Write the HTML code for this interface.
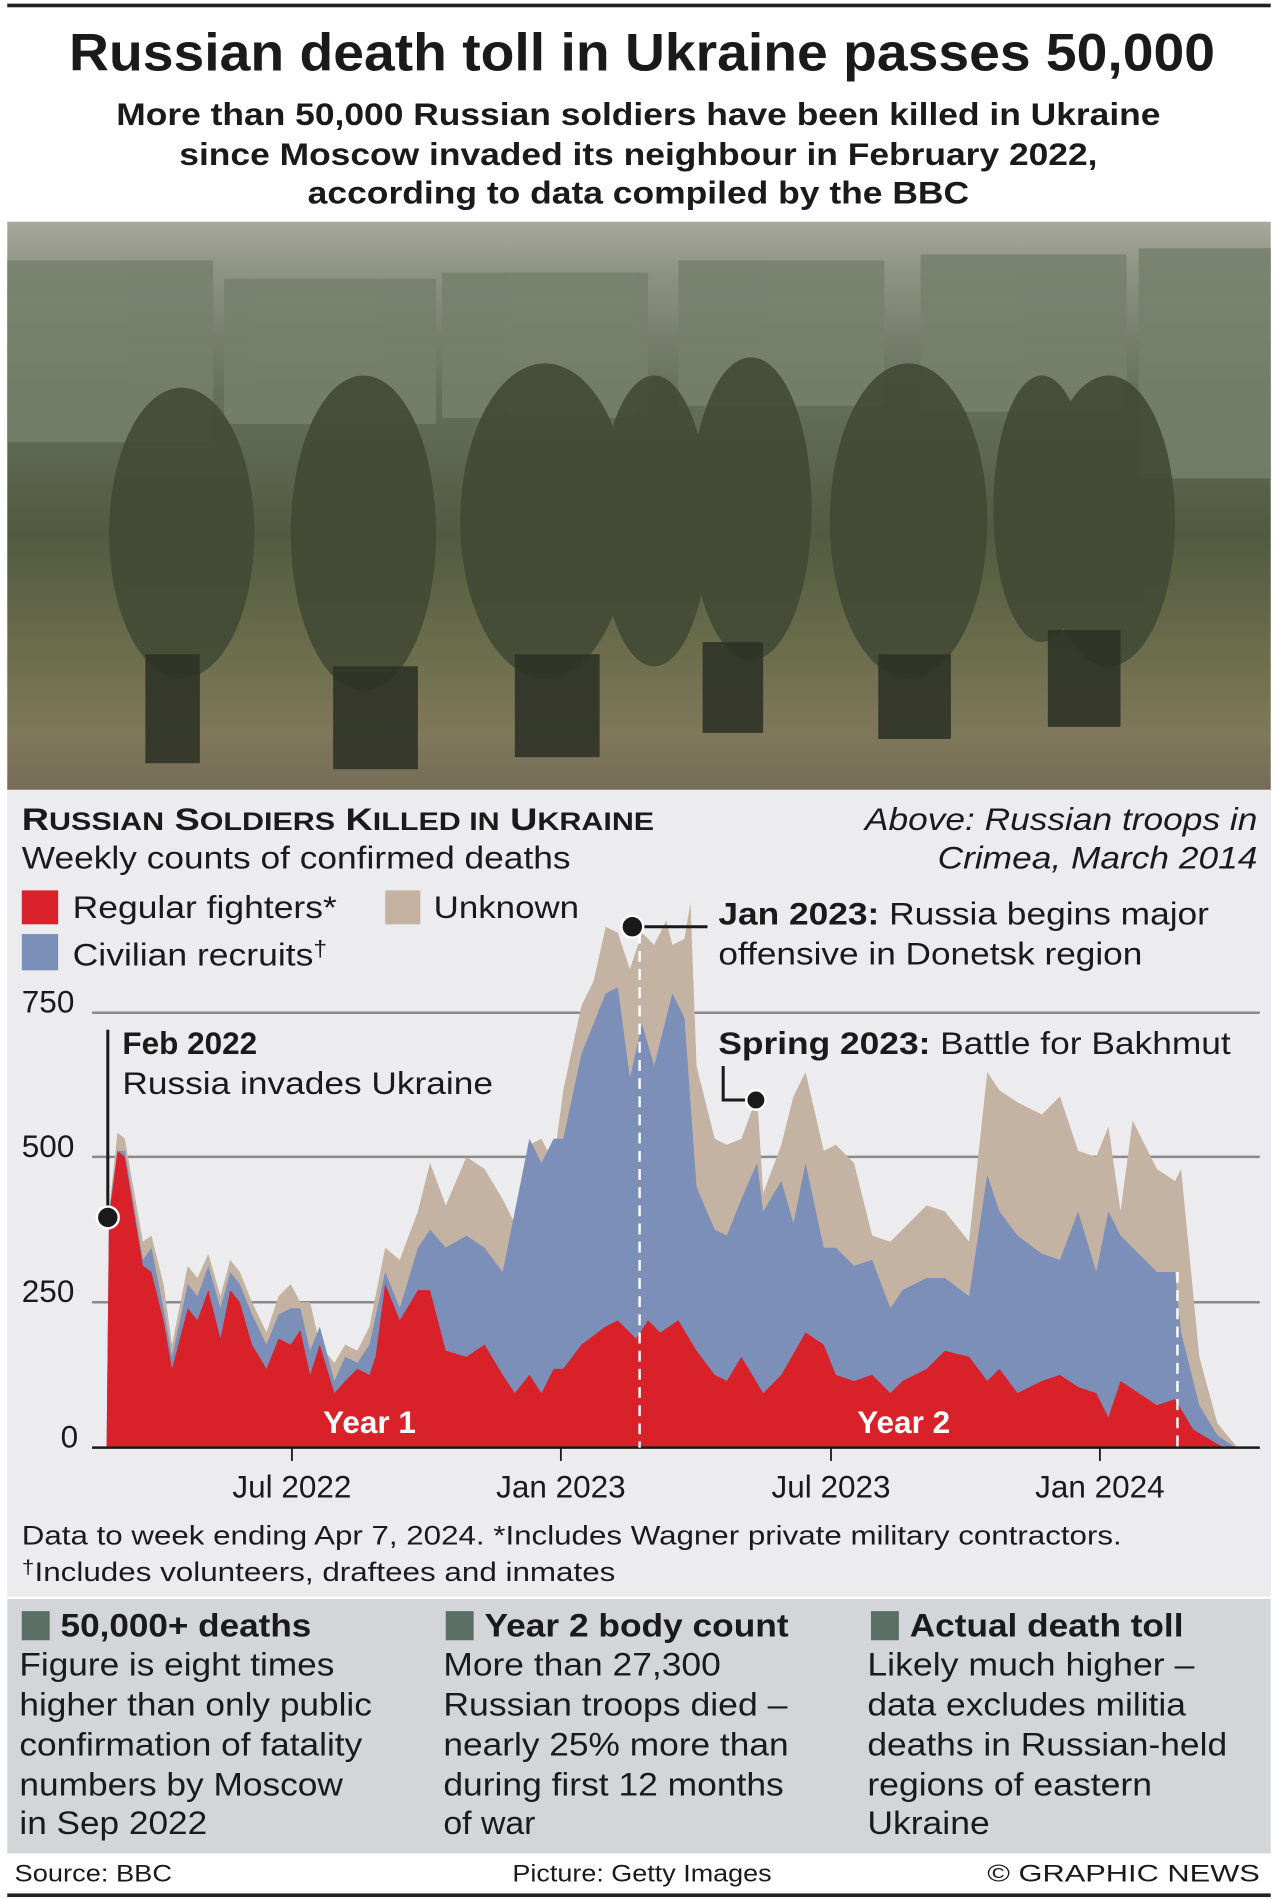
<!DOCTYPE html>
<html><head><meta charset="utf-8"><style>
html,body{margin:0;padding:0;background:#fff}
svg{display:block}
text{font-family:"Liberation Sans",Arial,sans-serif}
</style></head><body>
<svg width="1278" height="1899" viewBox="0 0 1055 1567.6" xmlns="http://www.w3.org/2000/svg">
<defs>
<linearGradient id="ph" x1="0" y1="0" x2="0" y2="1">
<stop offset="0" stop-color="#a8a89d"/>
<stop offset="0.08" stop-color="#8f9484"/>
<stop offset="0.3" stop-color="#66705a"/>
<stop offset="0.55" stop-color="#525a40"/>
<stop offset="0.75" stop-color="#6b6d4c"/>
<stop offset="0.9" stop-color="#7f785a"/>
<stop offset="1" stop-color="#766c58"/>
</linearGradient>
</defs>
<rect x="0" y="0" width="1055" height="1568" fill="#fff"/>
<rect x="6" y="3" width="1043" height="3" fill="#222"/>
<text x="530" y="58" text-anchor="middle" font-size="44" font-weight="bold" fill="#1a1a1a" textLength="946" lengthAdjust="spacingAndGlyphs">Russian death toll in Ukraine passes 50,000</text>
<g font-size="26" font-weight="bold" fill="#1a1a1a" text-anchor="middle">
<text x="527" y="103" textLength="862" lengthAdjust="spacingAndGlyphs">More than 50,000 Russian soldiers have been killed in Ukraine</text>
<text x="527" y="136" textLength="758" lengthAdjust="spacingAndGlyphs">since Moscow invaded its neighbour in February 2022,</text>
<text x="527" y="168" textLength="546" lengthAdjust="spacingAndGlyphs">according to data compiled by the BBC</text>
</g>
<!-- photo -->
<rect x="6" y="183" width="1043" height="469" fill="url(#ph)"/>
<g fill="#76806b" opacity="0.85">
<rect x="6" y="215" width="170" height="150"/><rect x="185" y="230" width="175" height="120"/><rect x="365" y="225" width="170" height="120"/><rect x="560" y="215" width="170" height="120"/><rect x="760" y="210" width="170" height="130"/><rect x="940" y="205" width="109" height="190"/>
</g>
<g fill="#434a34" opacity="0.9">
<ellipse cx="150" cy="440" rx="60" ry="120"/><ellipse cx="300" cy="440" rx="60" ry="130"/><ellipse cx="450" cy="430" rx="70" ry="130"/><ellipse cx="540" cy="430" rx="45" ry="120"/><ellipse cx="620" cy="420" rx="50" ry="125"/><ellipse cx="750" cy="430" rx="65" ry="130"/><ellipse cx="860" cy="420" rx="40" ry="110"/><ellipse cx="915" cy="430" rx="55" ry="120"/>
</g>
<g fill="#2f3327" opacity="0.9">
<rect x="120" y="540" width="45" height="90"/><rect x="275" y="550" width="70" height="85"/><rect x="425" y="540" width="70" height="85"/><rect x="580" y="530" width="50" height="75"/><rect x="725" y="540" width="60" height="70"/><rect x="865" y="520" width="60" height="80"/>
</g>
<!-- chart panel -->
<rect x="6" y="652" width="1043" height="666" fill="#ececee"/>
<text x="18" y="685" font-size="26" font-weight="bold" fill="#1a1a1a" textLength="522" lengthAdjust="spacingAndGlyphs">R<tspan font-size="21">USSIAN</tspan> S<tspan font-size="21">OLDIERS</tspan> K<tspan font-size="21">ILLED IN</tspan> U<tspan font-size="21">KRAINE</tspan></text>
<text x="18" y="717" font-size="26" fill="#1a1a1a" textLength="453" lengthAdjust="spacingAndGlyphs">Weekly counts of confirmed deaths</text>
<g font-size="26" font-style="italic" fill="#1a1a1a" text-anchor="end">
<text x="1038" y="685" textLength="324" lengthAdjust="spacingAndGlyphs">Above: Russian troops in</text>
<text x="1038" y="717" textLength="264" lengthAdjust="spacingAndGlyphs">Crimea, March 2014</text>
</g>
<rect x="18" y="735" width="30" height="28" fill="#d82128"/>
<text x="60" y="758" font-size="26" fill="#1a1a1a" textLength="218" lengthAdjust="spacingAndGlyphs">Regular fighters*</text>
<rect x="318" y="735" width="29" height="28" fill="#c4b2a3"/>
<text x="358" y="758" font-size="26" fill="#1a1a1a" textLength="120" lengthAdjust="spacingAndGlyphs">Unknown</text>
<rect x="18" y="771" width="30" height="30" fill="#7b8fb8"/>
<text x="60" y="797" font-size="26" fill="#1a1a1a" textLength="210" lengthAdjust="spacingAndGlyphs">Civilian recruits<tspan font-size="18" dy="-8">†</tspan></text>
<!-- grid -->
<g stroke="#8a8a8a" stroke-width="2">
<line x1="76" y1="836" x2="1040" y2="836"/><line x1="76" y1="955" x2="1040" y2="955"/><line x1="76" y1="1075" x2="1040" y2="1075"/>
</g>
<g font-size="26" fill="#1a1a1a">
<text x="18" y="836">750</text><text x="18" y="955">500</text><text x="18" y="1075">250</text><text x="50" y="1195">0</text>
</g>
<!-- areas -->
<polygon fill="#c4b2a3" points="88,1195 90,1000 97,935 103,940 118,1025 125,1020 135,1060 142,1110 155,1045 163,1055 172,1035 182,1070 190,1040 198,1050 208,1075 220,1100 230,1070 240,1060 248,1075 256,1075 264,1110 276,1125 285,1110 295,1115 305,1095 318,1030 330,1040 345,1000 355,960 368,995 385,955 400,965 415,990 425,1010 437,945 447,940 457,960 465,900 480,830 490,810 500,765 510,770 520,800 530,770 540,780 550,760 555,780 565,775 570,745 575,880 590,940 600,945 612,940 625,905 630,985 645,945 655,905 665,885 680,950 690,945 705,960 720,1020 735,1025 745,1015 765,995 780,1000 800,1025 815,885 825,900 840,910 860,920 875,905 890,950 905,955 915,930 925,1000 935,925 955,965 970,975 975,965 990,1120 1005,1175 1020,1193 1022,1195"/>
<polygon fill="#7b8fb8" points="88,1195 90,1000 97,950 103,950 118,1040 125,1030 135,1080 142,1120 155,1060 163,1070 172,1045 182,1080 190,1050 198,1060 208,1085 220,1110 230,1085 240,1080 248,1080 256,1115 264,1095 276,1140 285,1120 295,1125 305,1110 318,1050 330,1080 345,1030 355,1015 368,1030 385,1020 400,1030 415,1050 425,1000 437,940 447,960 457,940 465,940 480,870 500,820 510,815 520,890 530,845 540,880 555,820 565,840 575,980 590,1015 600,1020 612,990 625,960 630,1000 645,975 655,1010 665,960 680,1030 690,1030 705,1045 720,1040 735,1080 745,1065 765,1055 780,1055 800,1070 815,970 825,1000 840,1020 860,1035 875,1040 890,1000 905,1050 915,1000 925,1020 940,1035 955,1050 970,1050 975,1100 990,1160 1005,1185 1020,1195"/>
<polygon fill="#d82128" points="88,1195 90,1005 97,950 103,955 118,1045 125,1050 135,1090 142,1130 155,1080 163,1090 172,1065 182,1105 190,1065 198,1075 208,1110 220,1130 230,1105 240,1110 248,1098 256,1135 264,1110 276,1150 285,1140 295,1130 305,1135 310,1120 318,1060 330,1090 345,1065 355,1065 368,1115 385,1120 400,1110 415,1135 425,1150 437,1135 447,1150 457,1130 465,1130 480,1110 500,1095 510,1090 525,1105 535,1090 545,1100 560,1090 575,1115 590,1135 600,1140 612,1120 630,1150 645,1135 665,1100 680,1110 690,1135 705,1140 720,1135 735,1150 745,1140 765,1130 780,1115 800,1120 815,1140 825,1130 840,1150 860,1140 875,1135 890,1145 905,1150 915,1170 925,1140 940,1150 955,1160 970,1155 985,1180 1010,1195"/>
<line x1="76" y1="1195" x2="1040" y2="1195" stroke="#1a1a1a" stroke-width="2"/>
<g stroke="#1a1a1a" stroke-width="1.5">
<line x1="241" y1="1195" x2="241" y2="1206"/><line x1="463" y1="1195" x2="463" y2="1206"/><line x1="686" y1="1195" x2="686" y2="1206"/><line x1="908" y1="1195" x2="908" y2="1206"/>
</g>
<g font-size="26" fill="#1a1a1a" text-anchor="middle">
<text x="241" y="1236">Jul 2022</text><text x="463" y="1236">Jan 2023</text><text x="686" y="1236">Jul 2023</text><text x="908" y="1236">Jan 2024</text>
</g>
<g stroke="#fff" stroke-width="2" stroke-dasharray="9,6">
<line x1="528" y1="770" x2="528" y2="1195"/><line x1="972" y1="1050" x2="972" y2="1195"/>
</g>
<g font-size="26" font-weight="bold" fill="#fff" text-anchor="middle">
<text x="305" y="1183">Year 1</text><text x="746" y="1183">Year 2</text>
</g>
<!-- annotations -->
<line x1="89" y1="850" x2="89" y2="1000" stroke="#1a1a1a" stroke-width="2.5"/>
<circle cx="89" cy="1005" r="9" fill="#1a1a1a" stroke="#fff" stroke-width="2"/>
<text x="101" y="870" font-size="26" font-weight="bold" fill="#1a1a1a">Feb 2022</text>
<text x="101" y="903" font-size="26" fill="#1a1a1a" textLength="306" lengthAdjust="spacingAndGlyphs">Russia invades Ukraine</text>
<line x1="522" y1="765" x2="584" y2="765" stroke="#1a1a1a" stroke-width="2.5"/>
<circle cx="522" cy="765" r="9" fill="#1a1a1a" stroke="#fff" stroke-width="2"/>
<text x="593" y="763" font-size="26" fill="#1a1a1a" textLength="405" lengthAdjust="spacingAndGlyphs"><tspan font-weight="bold">Jan 2023:</tspan> Russia begins major</text>
<text x="593" y="796" font-size="26" fill="#1a1a1a" textLength="350" lengthAdjust="spacingAndGlyphs">offensive in Donetsk region</text>
<text x="593" y="870" font-size="26" fill="#1a1a1a" textLength="423" lengthAdjust="spacingAndGlyphs"><tspan font-weight="bold">Spring 2023:</tspan> Battle for Bakhmut</text>
<polyline points="597,880 597,908 620,908" fill="none" stroke="#1a1a1a" stroke-width="2.5"/>
<circle cx="624" cy="908" r="8" fill="#1a1a1a" stroke="#fff" stroke-width="2"/>
<g font-size="22" fill="#1a1a1a">
<text x="18" y="1275" textLength="908" lengthAdjust="spacingAndGlyphs">Data to week ending Apr 7, 2024. *Includes Wagner private military contractors.</text>
<text x="18" y="1305" textLength="490" lengthAdjust="spacingAndGlyphs"><tspan font-size="16" dy="-6">†</tspan><tspan dy="6">Includes volunteers, draftees and inmates</tspan></text>
</g>
<!-- bottom boxes -->
<rect x="6" y="1320" width="1043" height="210" fill="#d4d5d9"/>
<g fill="#5a6e66">
<rect x="18" y="1330" width="23" height="24"/><rect x="368" y="1330" width="23" height="24"/><rect x="719" y="1330" width="23" height="24"/>
</g>
<g font-size="27" font-weight="bold" fill="#1a1a1a">
<text x="50" y="1351" textLength="207" lengthAdjust="spacingAndGlyphs">50,000+ deaths</text>
<text x="400" y="1351" textLength="251" lengthAdjust="spacingAndGlyphs">Year 2 body count</text>
<text x="751" y="1351" textLength="226" lengthAdjust="spacingAndGlyphs">Actual death toll</text>
</g>
<g font-size="27" fill="#1a1a1a">
<text x="16" y="1383" textLength="260" lengthAdjust="spacingAndGlyphs">Figure is eight times</text>
<text x="16" y="1416" textLength="291" lengthAdjust="spacingAndGlyphs">higher than only public</text>
<text x="16" y="1449" textLength="283" lengthAdjust="spacingAndGlyphs">confirmation of fatality</text>
<text x="16" y="1482" textLength="267" lengthAdjust="spacingAndGlyphs">numbers by Moscow</text>
<text x="16" y="1514" textLength="155" lengthAdjust="spacingAndGlyphs">in Sep 2022</text>
<text x="366" y="1383" textLength="229" lengthAdjust="spacingAndGlyphs">More than 27,300</text>
<text x="366" y="1416" textLength="284" lengthAdjust="spacingAndGlyphs">Russian troops died –</text>
<text x="366" y="1449" textLength="285" lengthAdjust="spacingAndGlyphs">nearly 25% more than</text>
<text x="366" y="1482" textLength="281" lengthAdjust="spacingAndGlyphs">during first 12 months</text>
<text x="366" y="1514" textLength="76" lengthAdjust="spacingAndGlyphs">of war</text>
<text x="716" y="1383" textLength="270" lengthAdjust="spacingAndGlyphs">Likely much higher –</text>
<text x="716" y="1416" textLength="263" lengthAdjust="spacingAndGlyphs">data excludes militia</text>
<text x="716" y="1449" textLength="297" lengthAdjust="spacingAndGlyphs">deaths in Russian-held</text>
<text x="716" y="1482" textLength="235" lengthAdjust="spacingAndGlyphs">regions of eastern</text>
<text x="716" y="1514" textLength="101" lengthAdjust="spacingAndGlyphs">Ukraine</text>
</g>
<g font-size="20" fill="#1a1a1a">
<text x="12" y="1553" textLength="130" lengthAdjust="spacingAndGlyphs">Source: BBC</text>
<text x="423" y="1553" textLength="214" lengthAdjust="spacingAndGlyphs">Picture: Getty Images</text>
<text x="1040" y="1553" text-anchor="end" textLength="225" lengthAdjust="spacingAndGlyphs">© GRAPHIC NEWS</text>
</g>
<rect x="6" y="1563" width="1043" height="3" fill="#222"/>
</svg>
</body></html>
